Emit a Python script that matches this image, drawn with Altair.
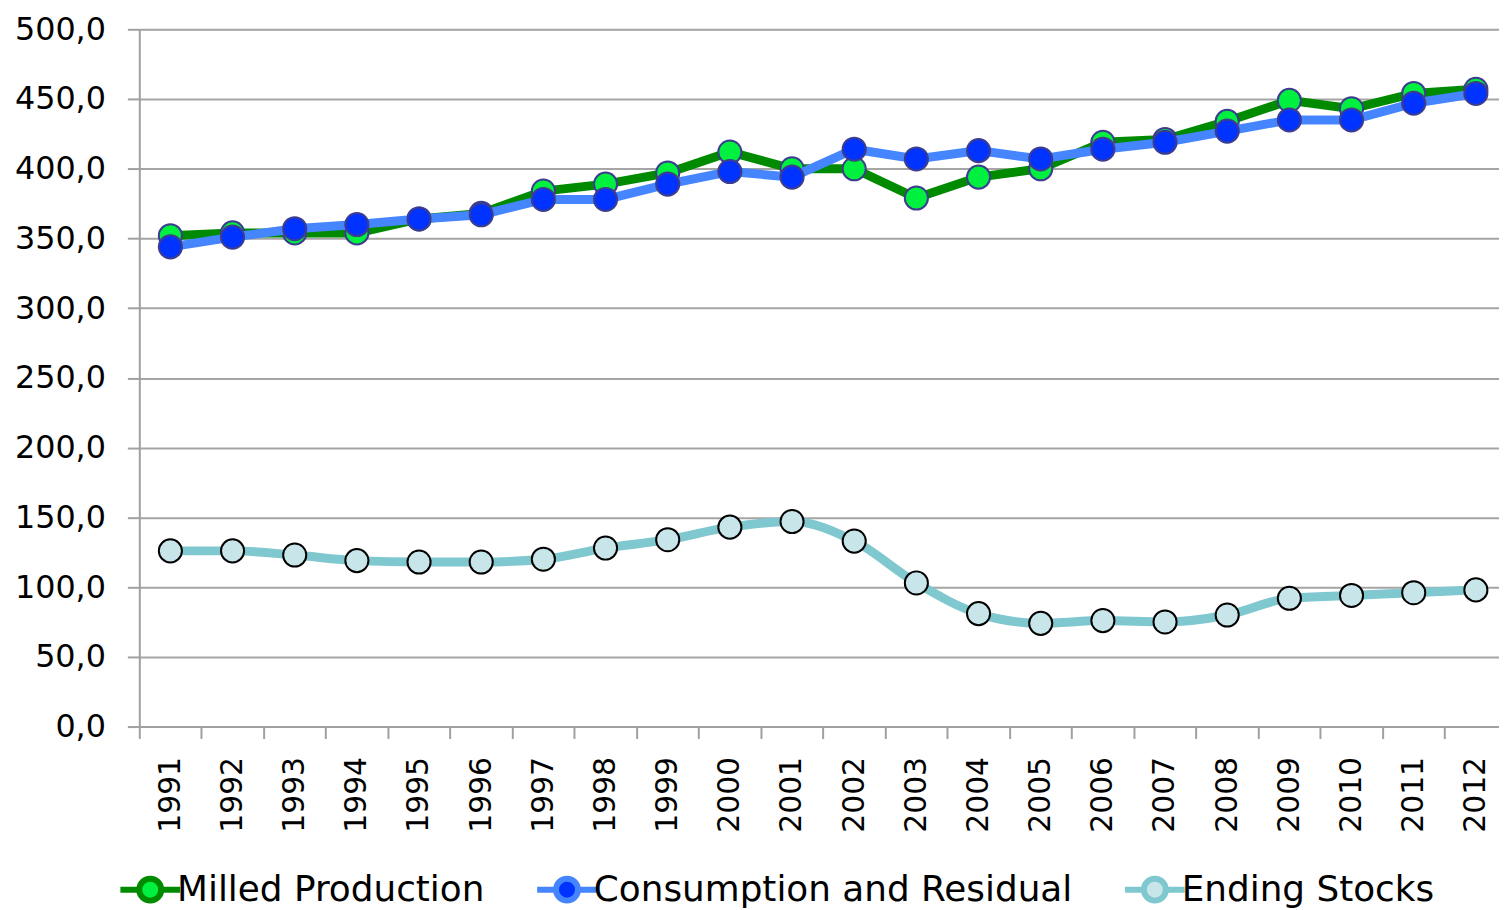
import altair as alt
import pandas as pd

years = list(range(1991, 2013))
milled = [352, 354, 354, 354, 364, 368, 384, 389, 397, 412, 400, 400, 379, 394, 400, 419, 421, 434, 449, 443, 454, 457]
consumption = [344, 351, 357, 360, 364, 367, 378, 378, 389, 398, 394, 414, 407, 413, 407, 414, 419, 427, 435, 435, 447, 454]
stocks = [126, 126, 123, 119, 118, 118, 120, 128, 134, 143, 147, 133, 103, 81, 74, 76, 75, 80, 92, 94, 96, 98]
series = ["Milled Production", "Consumption and Residual", "Ending Stocks"]
y_ticks = [0, 50, 100, 150, 200, 250, 300, 350, 400, 450, 500]

line_colors = ["#008a00", "#4585ff", "#80c8cf"]
fill_colors = ["#00f040", "#0033ff", "#c8e6ea"]
point_strokes = ["#3d3d8f", "#3d3d8f", "#000000"]

rows = []
for name, vals in zip(series, [milled, consumption, stocks]):
    for yr, v in zip(years, vals):
        rows.append({"year": yr, "value": v, "series": name})
df = pd.DataFrame(rows)

FONT = "DejaVu Sans"
PLOT_W = 1367
STEP_PX = 62.5                      # category step; the last category runs past the right edge
x0 = years[0] - 0.5
x_scale = alt.Scale(domain=[x0, x0 + PLOT_W / STEP_PX], nice=False, zero=False)
boundaries = [y - 0.5 for y in years]

tick_axis = alt.Axis(
    title=None, orient="bottom", values=boundaries, labels=False, tickSize=12,
    tickColor="#a0a0a0", tickWidth=2, domainColor="#a0a0a0", domainWidth=2, grid=False,
)
label_axis = alt.Axis(
    title=None, orient="bottom", values=years, format="d", ticks=False, domain=False,
    labelAngle=-90, labelAlign="right", labelBaseline="middle", labelFontSize=30,
    labelFont=FONT, labelColor="#000", labelPadding=30, grid=False,
)

y_enc = alt.Y(
    "value:Q",
    scale=alt.Scale(domain=[0, 500], nice=False),
    axis=alt.Axis(
        title=None, values=y_ticks, labelExpr="replace(format(datum.value, '.1f'), '.', ',')",
        labelFontSize=32, labelFont=FONT, labelColor="#000", labelPadding=22,
        tickSize=12, tickColor="#a0a0a0", tickWidth=2, domainColor="#a0a0a0",
        domainWidth=2, grid=True, gridColor="#a5a5a5", gridWidth=2,
    ),
)

legend_path = "M-1.5,0 L-0.55,0 M0.55,0 L1.5,0 M-0.55,0 A0.55,0.55 0 1 1 0.55,0 A0.55,0.55 0 1 1 -0.55,0 Z"

stroke_scale = alt.Scale(domain=series, range=line_colors)
fill_scale = alt.Scale(domain=series, range=fill_colors)

legend = alt.Legend(
    title=None, orient="none", direction="horizontal", legendX=-12, legendY=842,
    symbolType=legend_path, symbolSize=1600, symbolStrokeWidth=6,
    labelFontSize=36, labelFont=FONT, labelColor="#000", labelOffset=4,
    columnPadding=40, labelLimit=0,
)

layers = []
interps = ["linear", "linear", "monotone"]
for i, name in enumerate(series):
    sub = df[df["series"] == name]
    if i == 0:
        ax = tick_axis
    elif i == 1:
        ax = label_axis
    else:
        ax = None
    x_line = alt.X("year:Q", scale=x_scale, axis=ax)
    x_pt = alt.X("year:Q", scale=x_scale, axis=None)
    line = alt.Chart(sub).mark_line(strokeWidth=9, interpolate=interps[i]).encode(
        x=x_line, y=y_enc,
        stroke=alt.Stroke("series:N", scale=stroke_scale, legend=legend),
    )
    pts = alt.Chart(sub).mark_point(
        filled=True, shape="circle", size=540, opacity=1, strokeWidth=2,
        stroke=point_strokes[i],
    ).encode(
        x=x_pt, y=y_enc,
        fill=alt.Fill("series:N", scale=fill_scale, legend=legend),
    )
    layers += [line, pts]

chart = alt.layer(*layers).resolve_axis(x="independent").properties(
    width=PLOT_W, height=701,
    autosize=alt.AutoSizeParams(type="none"),
    padding={"left": 132, "top": 19, "right": 0, "bottom": 182},
).configure_view(stroke=None).configure(background="white")

chart.save("out.html", embed_options={"renderer": "svg", "actions": False})
